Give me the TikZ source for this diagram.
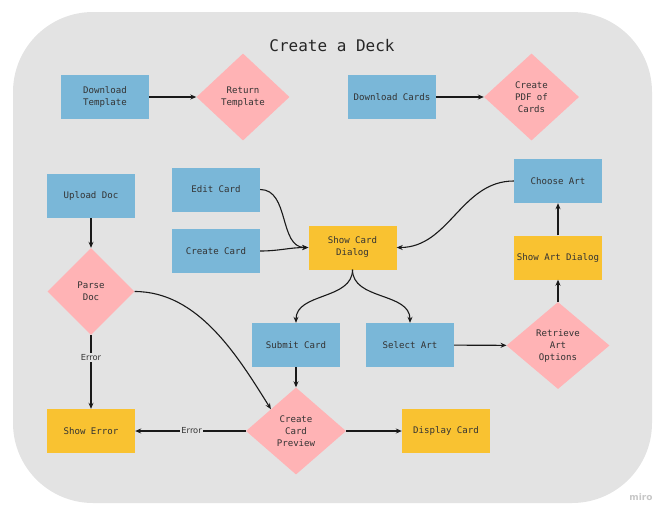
\documentclass[tikz,border=0pt]{standalone}
\usepackage{fontspec}
\setmainfont{DejaVu Sans Mono}
\newfontfamily\lblfont{DejaVu Sans}
\usetikzlibrary{shapes.geometric,arrows.meta}
\definecolor{bgray}{HTML}{E3E3E3}
\definecolor{cblue}{HTML}{7AB7D8}
\definecolor{cpink}{HTML}{FFB3B5}
\definecolor{cyellow}{HTML}{F9C231}
\definecolor{ctext}{HTML}{333333}
\tikzset{
  boxbase/.style={rectangle, minimum width=88pt, minimum height=44pt, inner sep=1pt, align=center, text=ctext, font=\fontsize{9.1}{12}\selectfont},
  bluebox/.style={boxbase, fill=cblue},
  yellowbox/.style={boxbase, fill=cyellow},
  decision/.style={diamond, fill=cpink, inner sep=0pt, align=center, text=ctext, font=\fontsize{9.1}{12}\selectfont},
  conn/.style={draw=black!90, line width=1.1pt, -{Stealth[length=6pt,width=5pt]}},
  errlbl/.style={fill=bgray, inner sep=1.5pt, font=\lblfont\fontsize{8.3}{10}\selectfont, text=ctext},
}
\begin{document}
\begin{tikzpicture}[x=1pt,y=-1pt]
\useasboundingbox (0,0) rectangle (664,515);
\fill[bgray, rounded corners=80pt] (13,12) rectangle (652,503);
\node[font=\fontsize{16}{18}\selectfont, text=black!85] (title) at (332,46) {Create a Deck};

\node[bluebox] (dt) at (105,97) {Download\\Template};
\node[decision, minimum width=93pt, minimum height=87pt] (rt) at (243,97) {Return\\Template};
\node[bluebox] (dc) at (392,97) {Download Cards};
\node[decision, minimum width=95pt, minimum height=87pt] (pdf) at (531.5,97) {Create\\PDF of\\Cards};

\node[bluebox] (ud) at (91,196) {Upload Doc};
\node[decision, minimum width=87pt, minimum height=87pt] (pd) at (91,291.5) {Parse\\Doc};
\node[yellowbox] (se) at (91,431) {Show Error};

\node[bluebox] (ec) at (216,189.5) {Edit Card};
\node[bluebox] (cc) at (216,251) {Create Card};
\node[yellowbox] (scd) at (352.5,247.5) {Show Card\\Dialog};
\node[bluebox] (sc) at (296,345) {Submit Card};
\node[bluebox] (sa) at (410,345) {Select Art};
\node[decision, minimum width=100pt, minimum height=87pt] (ccp) at (296,431) {Create\\Card\\Preview};
\node[yellowbox] (dcd) at (446,431) {Display Card};

\node[bluebox] (ca) at (558,181) {Choose Art};
\node[yellowbox] (sad) at (558,257.5) {Show Art Dialog};
\node[decision, minimum width=103pt, minimum height=87pt] (rao) at (558,345.5) {Retrieve\\Art\\Options};

\node[font=\lblfont\bfseries\fontsize{9}{10}\selectfont, text=black!22] (miro) at (641,497) {miro};

\draw[conn] (dt) -- (rt);
\draw[conn] (dc) -- (pdf);
\draw[conn] (ud) -- (pd);
\draw[conn] (pd) -- node[errlbl, pos=0.3] {Error} (se);
\draw[conn] (pd.east) to[out=0, in=122, looseness=0.9] (ccp.north west);
\draw[conn] (sc) -- (ccp);
\draw[conn] (ccp) -- node[errlbl, pos=0.49] {Error} (se);
\draw[conn] (ccp) -- (dcd);
\draw[conn] (ec.east) to[out=0, in=180] (scd.west);
\draw[conn] (cc.east) to[out=0, in=180] (scd.west);
\draw[conn] (scd.south) to[out=-90, in=90] (sc.north);
\draw[conn] (scd.south) to[out=-90, in=90] (sa.north);
\draw[conn] (sa) -- (rao);
\draw[conn] (rao) -- (sad);
\draw[conn] (sad) -- (ca);
\draw[conn] (ca.west) to[out=180, in=0] (scd.east);
\end{tikzpicture}
\end{document}
